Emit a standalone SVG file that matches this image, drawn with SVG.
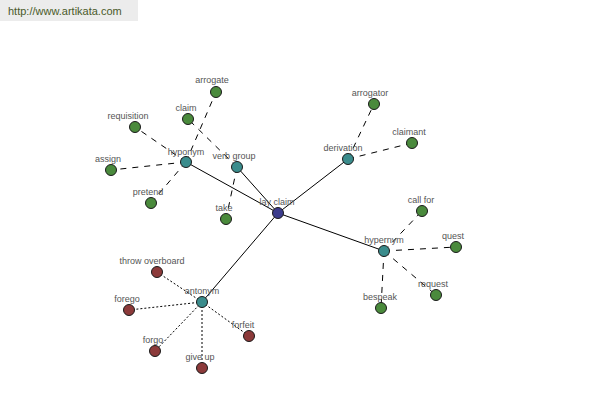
<svg xmlns="http://www.w3.org/2000/svg" width="600" height="400" viewBox="0 0 600 400">
<style>
.n circle{stroke:#1a1a1a;stroke-width:1}
.root circle{fill:#3b3b8c}
.mid circle{fill:#3a8c8c}
.leaf circle{fill:#4a8a3c}
.ant circle{fill:#8c3a3a}
text{font-family:"Liberation Sans",Arial,sans-serif;font-size:9px;fill:#555;text-anchor:middle}
.solid{stroke:#000;stroke-width:1;fill:none}
.dash{stroke:#000;stroke-width:1;stroke-dasharray:6,6;fill:none}
.dot{stroke:#000;stroke-width:1;stroke-dasharray:2,2;fill:none}
</style>
<rect x="0" y="0" width="600" height="400" fill="#fff"/>
<g id="header">
<rect x="0" y="0" width="138" height="21" fill="#ececec"/>
<text x="8" y="15" style="text-anchor:start;font-size:11px;fill:#4a5a2a">http://www.artikata.com</text>
</g>
<g id="connectors">
<line class="solid" x1="278" y1="213" x2="186" y2="162"/>
<line class="solid" x1="278" y1="213" x2="237" y2="167"/>
<line class="solid" x1="278" y1="213" x2="348" y2="159"/>
<line class="solid" x1="278" y1="213" x2="384" y2="251"/>
<line class="solid" x1="278" y1="213" x2="202" y2="302"/>
<line class="dash" x1="186" y1="162" x2="216" y2="92"/>
<line class="dash" x1="186" y1="162" x2="135" y2="127"/>
<line class="dash" x1="186" y1="162" x2="111" y2="170"/>
<line class="dash" x1="186" y1="162" x2="151" y2="203"/>
<line class="dash" x1="237" y1="167" x2="188" y2="119"/>
<line class="dash" x1="237" y1="167" x2="226" y2="219"/>
<line class="dash" x1="348" y1="159" x2="374" y2="104"/>
<line class="dash" x1="348" y1="159" x2="412" y2="143"/>
<line class="dash" x1="384" y1="251" x2="422" y2="211"/>
<line class="dash" x1="384" y1="251" x2="456" y2="247"/>
<line class="dash" x1="384" y1="251" x2="436" y2="295"/>
<line class="dash" x1="384" y1="251" x2="381" y2="308"/>
<line class="dot" x1="202" y1="302" x2="157" y2="272"/>
<line class="dot" x1="202" y1="302" x2="129" y2="310"/>
<line class="dot" x1="202" y1="302" x2="155" y2="351"/>
<line class="dot" x1="202" y1="302" x2="202" y2="368"/>
<line class="dot" x1="202" y1="302" x2="249" y2="336"/>
</g>
<g id="lay-claim" class="n root"><circle cx="278" cy="213" r="5.5"/><text x="277" y="205">lay claim</text></g>
<g id="hyponym" class="n mid"><circle cx="186" cy="162" r="5.5"/><text x="186" y="155">hyponym</text></g>
<g id="verb-group" class="n mid"><circle cx="237" cy="167" r="5.5"/><text x="234" y="159">verb group</text></g>
<g id="derivation" class="n mid"><circle cx="348" cy="159" r="5.5"/><text x="343" y="151">derivation</text></g>
<g id="hypernym" class="n mid"><circle cx="384" cy="251" r="5.5"/><text x="384" y="243">hypernym</text></g>
<g id="antonym" class="n mid"><circle cx="202" cy="302" r="5.5"/><text x="202" y="294">antonym</text></g>
<g id="arrogate" class="n leaf"><circle cx="216" cy="92" r="5.5"/><text x="212" y="83">arrogate</text></g>
<g id="claim" class="n leaf"><circle cx="188" cy="119" r="5.5"/><text x="186" y="111">claim</text></g>
<g id="requisition" class="n leaf"><circle cx="135" cy="127" r="5.5"/><text x="128" y="119">requisition</text></g>
<g id="assign" class="n leaf"><circle cx="111" cy="170" r="5.5"/><text x="108" y="162">assign</text></g>
<g id="pretend" class="n leaf"><circle cx="151" cy="203" r="5.5"/><text x="148" y="195">pretend</text></g>
<g id="take" class="n leaf"><circle cx="226" cy="219" r="5.5"/><text x="224" y="211">take</text></g>
<g id="arrogator" class="n leaf"><circle cx="374" cy="104" r="5.5"/><text x="370" y="96">arrogator</text></g>
<g id="claimant" class="n leaf"><circle cx="412" cy="143" r="5.5"/><text x="409" y="135">claimant</text></g>
<g id="call-for" class="n leaf"><circle cx="422" cy="211" r="5.5"/><text x="421" y="203">call for</text></g>
<g id="quest" class="n leaf"><circle cx="456" cy="247" r="5.5"/><text x="453" y="239">quest</text></g>
<g id="request" class="n leaf"><circle cx="436" cy="295" r="5.5"/><text x="433" y="287">request</text></g>
<g id="bespeak" class="n leaf"><circle cx="381" cy="308" r="5.5"/><text x="380" y="300">bespeak</text></g>
<g id="throw-overboard" class="n ant"><circle cx="157" cy="272" r="5.5"/><text x="152" y="264">throw overboard</text></g>
<g id="forego" class="n ant"><circle cx="129" cy="310" r="5.5"/><text x="127" y="302">forego</text></g>
<g id="forgo" class="n ant"><circle cx="155" cy="351" r="5.5"/><text x="153" y="343">forgo</text></g>
<g id="give-up" class="n ant"><circle cx="202" cy="368" r="5.5"/><text x="200" y="360">give up</text></g>
<g id="forfeit" class="n ant"><circle cx="249" cy="336" r="5.5"/><text x="243" y="328">forfeit</text></g>
</svg>
